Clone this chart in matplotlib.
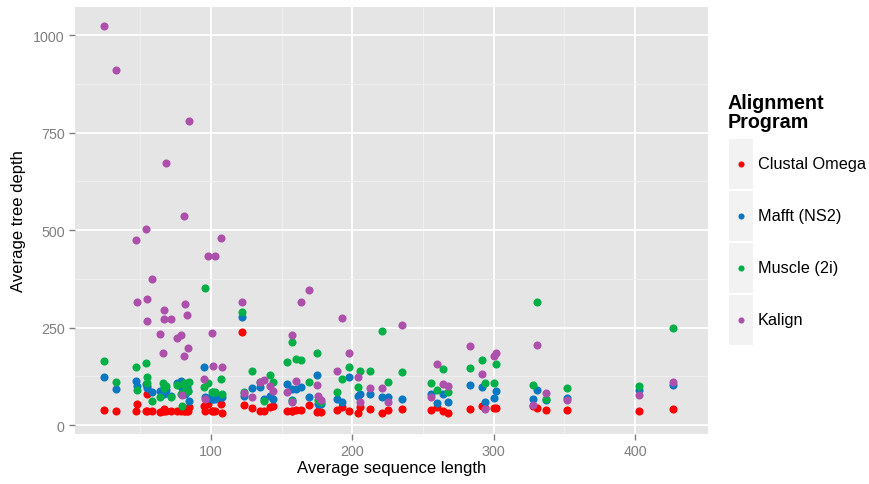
import matplotlib
matplotlib.use("Agg")
import matplotlib.pyplot as plt
from matplotlib.patches import Rectangle
from matplotlib.lines import Line2D

plt.rcParams['font.family'] = ['Liberation Sans', 'DejaVu Sans']

# average sequence length of each alignment set
seq_len = [24, 33, 47, 47.5, 54, 54.5, 55, 58, 64, 66, 67, 66.5, 68, 72, 76, 79,
           79.5, 81, 81.5, 81.2, 83, 84, 84.5, 95, 95.5, 98, 101, 103, 107, 108,
           101.5, 122, 123, 129, 135, 137.5, 142, 144, 154, 157, 157.5, 160, 164,
           169, 175, 178, 176, 189, 193, 198, 204, 205.5, 212.5, 221, 225, 235,
           256, 260, 264, 268, 283, 292, 294, 300, 302, 328, 331, 337, 352, 403, 427]

clustal = [38, 37, 37, 53, 37, 80, 37, 37, 34, 37, 37, 40, 37, 37, 37, 37,
           40, 37, 37, 40, 37, 37, 46, 50, 37, 54, 37, 35, 54, 31,
           37, 238, 52, 43, 37, 37, 45, 49, 37, 37, 37, 38, 38,
           51, 34, 34, 37, 39, 46, 37, 30, 46, 41, 32, 38, 41,
           38, 45, 37, 32, 41, 50, 44, 44, 44, 48, 43, 38, 38, 36, 40]

mafft = [123, 92, 114, 100, 105, 95, 100, 85, 88, 85, 95, 80, 90, 75, 109, 114,
         95, 97, 80, 85, 97, 88, 62, 149, 72, 70, 68, 68, 72, 72,
         68, 278, 75, 94, 97, 67, 75, 67, 105, 92, 64, 92, 97,
         72, 128, 54, 54, 67, 59, 123, 75, 80, 80, 72, 72, 67,
         80, 56, 80, 58, 103, 97, 58, 69, 86, 68, 90, 64, 70, 91, 103]

muscle = [164, 111, 148, 90, 159, 122, 109, 62, 71, 107, 103, 95, 100, 71, 103, 80,
          50, 105, 88, 108, 108, 88, 110, 98, 352, 108, 85, 84, 118, 80,
          85, 290, 85, 139, 110, 62, 128, 110, 161, 214, 62, 170, 167,
          111, 185, 59, 65, 85, 118, 150, 97, 139, 139, 242, 111, 137,
          107, 91, 143, 85, 147, 167, 109, 107, 156, 103, 316, 68, 96, 99, 249]

kalign = [1022, 911, 474, 315, 502, 323, 267, 374, 233, 185, 295, 272, 672, 272, 223, 231,
          77, 178, 310, 535, 282, 197, 779, 118, 67, 433, 236, 433, 480, 150,
          152, 315, 82, 73, 111, 116, 101, 88, 85, 231, 59, 114, 315,
          346, 103, 64, 75, 139, 274, 185, 123, 59, 95, 95, 60, 257,
          73, 156, 105, 101, 203, 131, 41, 178, 184, 51, 206, 81, 64, 77, 111]

programs = ["Clustal Omega", "Mafft (NS2)", "Muscle (2i)", "Kalign"]
colors = ["#FF0000", "#0A78C0", "#00AF46", "#AD50AB"]
series = [clustal, mafft, muscle, kalign]

fig = plt.figure(figsize=(8.7, 4.85), dpi=100)
ax = fig.add_axes([75 / 870, 1 - 435 / 485, 633 / 870, 427 / 485])

ax.set_facecolor("#E5E5E5")
for s in ax.spines.values():
    s.set_visible(False)

for vals, col in zip(series, colors):
    ax.scatter(seq_len, vals, s=34, color=col, linewidths=0, zorder=3)

ax.set_xlim(3.75, 451.7)
ax.set_ylim(-23, 1072)
ax.set_xticks([100, 200, 300, 400])
ax.set_yticks([0, 250, 500, 750, 1000])
ax.set_xticks([50, 150, 250, 350], minor=True)
ax.set_yticks([125, 375, 625, 875], minor=True)
ax.grid(which="major", color="white", linewidth=1.3)
ax.grid(which="minor", color="#F2F2F2", linewidth=0.6)
ax.set_axisbelow(True)
ax.tick_params(which="major", colors="#7F7F7F", length=4, width=1, labelsize=10.3,
               labelcolor="#7F7F7F")
ax.tick_params(which="minor", length=0)

ax.set_xlabel("Average sequence length", fontsize=12, labelpad=1)
ax.set_ylabel("Average tree depth", fontsize=12, labelpad=5)

# legend drawn ggplot-style with grey key boxes
fig.text(728 / 870, 1 - 113 / 485, "Alignment\nProgram", fontsize=14.2, fontweight="bold",
         va="center", ha="left", linespacing=1.0)
key_top = 140
key_h = 52
for i, (name, col) in enumerate(zip(programs, colors)):
    top = key_top + i * key_h
    fig.patches.append(Rectangle((729 / 870, 1 - (top + key_h - 2) / 485), 24 / 870,
                                 (key_h - 2) / 485, transform=fig.transFigure,
                                 facecolor="#F2F2F2", edgecolor="none"))
    cy = 1 - (top + (key_h - 2) / 2) / 485
    fig.lines.append(Line2D([741 / 870], [cy], transform=fig.transFigure, marker="o",
                            markersize=4.4, color=col, markeredgewidth=0, linestyle="none"))
    fig.text(758 / 870, cy, name, fontsize=11.7, va="center", ha="left")

fig.savefig("out.png", dpi=100)
